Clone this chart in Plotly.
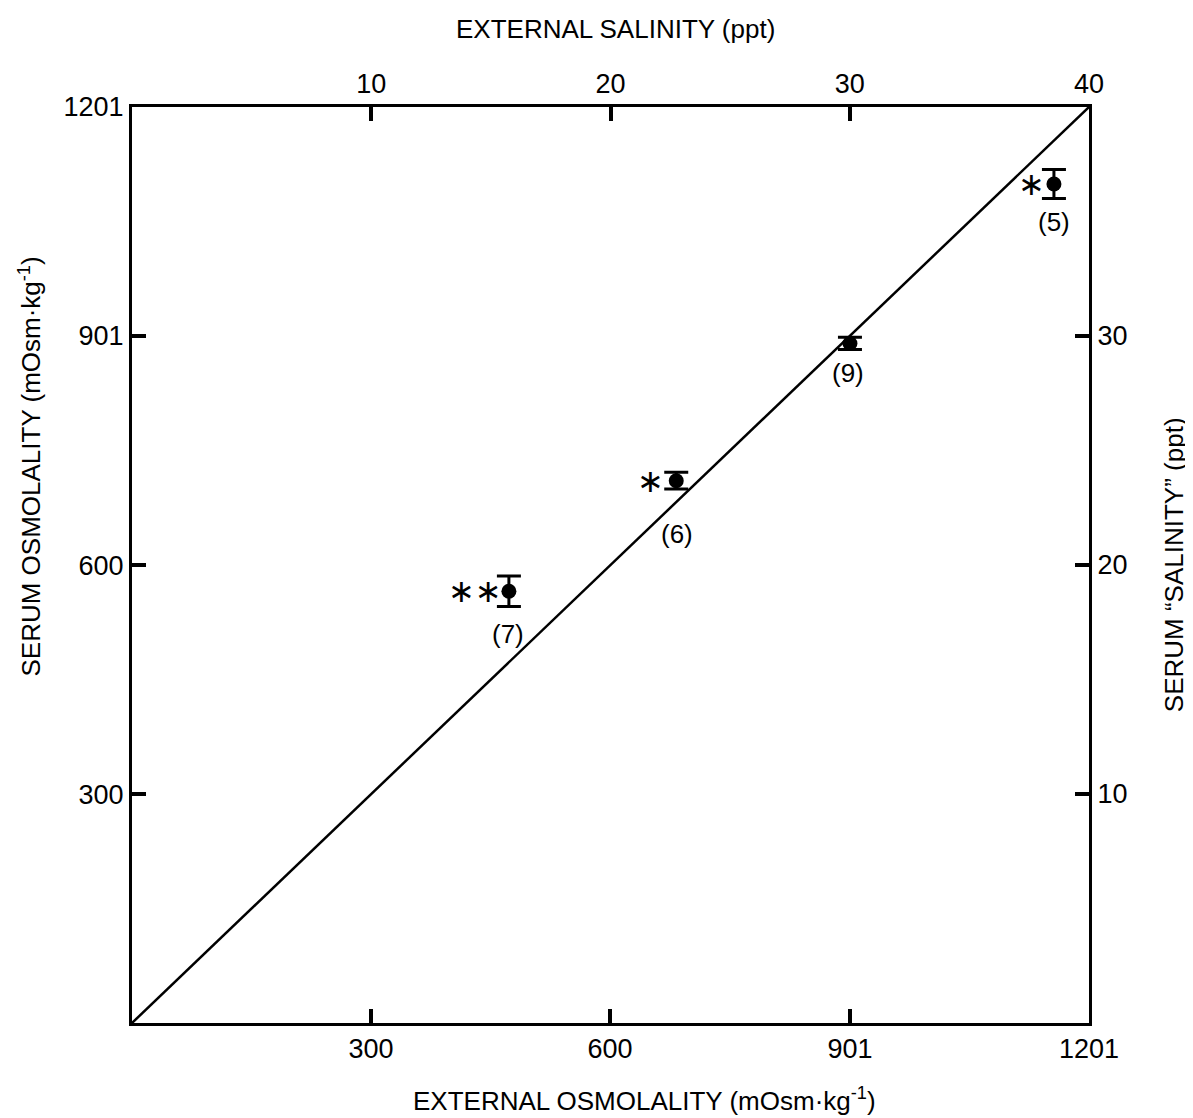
import plotly.graph_objects as go

# ---- data ----
ext_osm = [473, 683, 901, 1157]          # external osmolality (mOsm/kg)
serum_osm = [566, 711, 891, 1100]        # serum osmolality (mOsm/kg)
serum_err = [20, 11, 8, 19]              # error bar half-lengths
n_labels = ["(7)", "(6)", "(9)", "(5)"]
sig_labels = ["∗∗", "∗", "", "∗"]

line_x = [0, 1201]                       # line of equality
line_y = [0, 1201]

osm_ticks = [300, 600, 901, 1201]
sal_top_ticks = [10, 20, 30, 40]
sal_right_ticks = [10, 20, 30]

FONT = "Liberation Sans"

fig = go.Figure()

fig.add_trace(go.Scatter(
    x=line_x, y=line_y, mode="lines",
    line=dict(color="black", width=2.5), hoverinfo="skip", showlegend=False))

fig.add_trace(go.Scatter(
    x=ext_osm, y=serum_osm, mode="markers",
    marker=dict(color="black", size=15),
    error_y=dict(type="data", array=serum_err, visible=True,
                 color="black", thickness=3, width=12),
    showlegend=False))

# invisible trace to bind the salinity axes
fig.add_trace(go.Scatter(
    x=[0, 40], y=[0, 40], mode="markers", marker=dict(opacity=0),
    xaxis="x2", yaxis="y2", hoverinfo="skip", showlegend=False))

# sample sizes and significance marks
label_shift = {"(7)": (-1, -43), "(6)": (1, -53), "(9)": (-2, -30), "(5)": (0, -38)}
sig_shift = [-34, -26, 0, -22]
for xv, yv, lab, sig, ss in zip(ext_osm, serum_osm, n_labels, sig_labels, sig_shift):
    dx, dy = label_shift[lab]
    fig.add_annotation(x=xv, y=yv, text=lab, showarrow=False,
                       xshift=dx, yshift=dy, xanchor="center", yanchor="middle",
                       font=dict(family=FONT, size=26, color="black"))
    if sig:
        fig.add_annotation(x=xv, y=yv, text=sig, showarrow=False,
                           xshift=ss, yshift=0, xanchor="center", yanchor="middle",
                           font=dict(family="DejaVu Sans", size=32, color="black"))

axis_common = dict(
    showline=True, linewidth=3, linecolor="black",
    ticks="inside", ticklen=14, tickwidth=4, tickcolor="black",
    showgrid=False, zeroline=False,
    tickfont=dict(family=FONT, size=27, color="black"),
)

fig.update_layout(
    width=1185, height=1110, autosize=False,
    margin=dict(l=124, r=104, t=99, b=95),
    paper_bgcolor="white", plot_bgcolor="white",
    xaxis=dict(range=[0, 1201], tickvals=osm_ticks,
               ticktext=[str(v) for v in osm_ticks], **axis_common),
    yaxis=dict(range=[0, 1201], tickvals=osm_ticks,
               ticktext=[str(v) for v in osm_ticks], **axis_common),
    xaxis2=dict(range=[0, 40], tickvals=sal_top_ticks, overlaying="x",
                side="top", **axis_common),
    yaxis2=dict(range=[0, 40], tickvals=sal_right_ticks, overlaying="y",
                side="right", **axis_common),
)

title_font = dict(family=FONT, size=26, color="black")
fig.add_annotation(xref="paper", yref="paper", x=0.536, y=-0.083,
                   xanchor="center", yanchor="middle",
                   text="EXTERNAL OSMOLALITY (mOsm·kg<sup>-1</sup>)",
                   showarrow=False, font=title_font)
fig.add_annotation(xref="paper", yref="paper", x=0.505, y=1.085,
                   xanchor="center", yanchor="middle",
                   text="EXTERNAL SALINITY (ppt)",
                   showarrow=False, font=title_font)
fig.add_annotation(xref="paper", yref="paper", x=-0.106, y=0.607,
                   xanchor="center", yanchor="middle",
                   text="SERUM OSMOLALITY (mOsm·kg<sup>-1</sup>)",
                   textangle=-90, showarrow=False, font=title_font)
fig.add_annotation(xref="paper", yref="paper", x=1.089, y=0.50,
                   xanchor="center", yanchor="middle",
                   text="SERUM \u201cSALINITY\u201d (ppt)",
                   textangle=-90, showarrow=False, font=title_font)

fig.write_html("out.html")
